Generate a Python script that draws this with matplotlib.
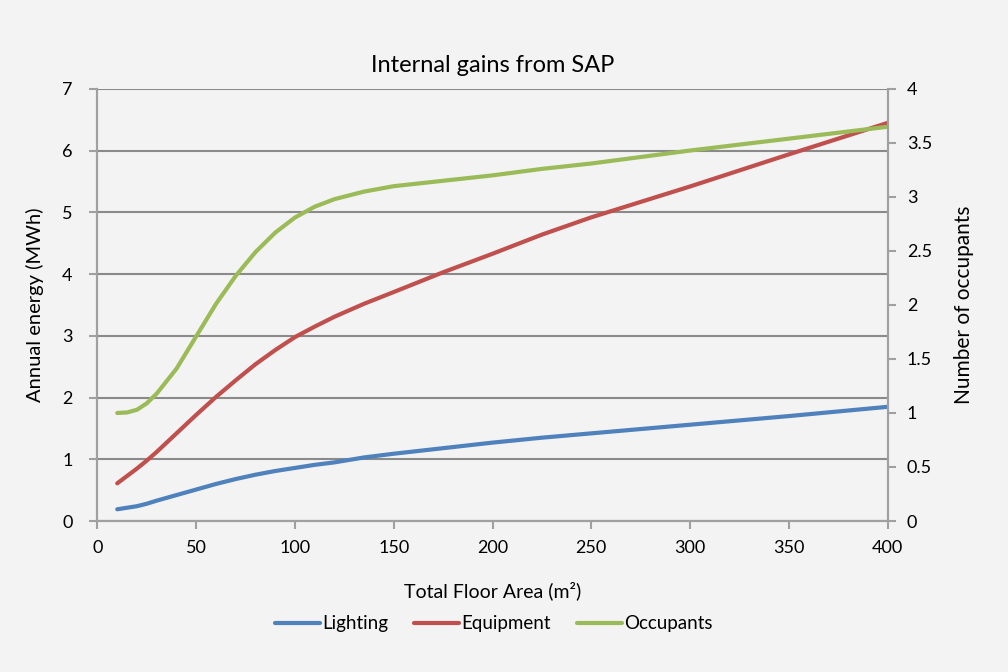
import matplotlib
matplotlib.use("Agg")
import matplotlib.pyplot as plt
from matplotlib.ticker import MultipleLocator, FuncFormatter

# SAP internal gains vs total floor area
tfa = [10, 15, 20, 25, 30, 40, 50, 60, 70, 80, 90, 100, 110, 120, 135, 150,
       175, 200, 225, 250, 300, 350, 400]
lighting = [0.19, 0.215, 0.24, 0.28, 0.33, 0.42, 0.51, 0.60, 0.68, 0.75, 0.81,
            0.86, 0.91, 0.95, 1.03, 1.09, 1.18, 1.27, 1.35, 1.42, 1.56, 1.70, 1.85]
equipment = [0.61, 0.73, 0.85, 0.98, 1.12, 1.42, 1.72, 2.01, 2.28, 2.54, 2.77,
             2.98, 3.15, 3.31, 3.52, 3.71, 4.03, 4.33, 4.64, 4.92, 5.42, 5.94, 6.45]
occupants = [1.00, 1.005, 1.03, 1.09, 1.18, 1.41, 1.71, 2.01, 2.27, 2.49, 2.67,
             2.81, 2.91, 2.98, 3.05, 3.10, 3.15, 3.20, 3.26, 3.31, 3.43, 3.54, 3.65]

BG = "#f3f3f3"
GRID = "#8a8a8a"
AXIS = "#a0a0a0"
C_LIGHT, C_EQUIP, C_OCC = "#4f81bd", "#c0504d", "#9bbb59"

plt.rcParams["font.family"] = ["Lato", "DejaVu Sans"]
plt.rcParams["font.size"] = 13

fig = plt.figure(figsize=(10.08, 6.72), dpi=100, facecolor=BG)
ax = fig.add_axes([0.0967, 0.2247, 0.7838, 0.6429])
ax.set_facecolor(BG)
ax2 = ax.twinx()

lw = 3.0
l1, = ax.plot(tfa, lighting, color=C_LIGHT, lw=lw, solid_capstyle="round",
              solid_joinstyle="round", label="Lighting")
l2, = ax.plot(tfa, equipment, color=C_EQUIP, lw=lw, solid_capstyle="round",
              solid_joinstyle="round", label="Equipment")
l3, = ax2.plot(tfa, occupants, color=C_OCC, lw=lw, solid_capstyle="round",
               solid_joinstyle="round", label="Occupants")

ax.set_xlim(0, 400)
ax.set_ylim(0, 7)
ax2.set_ylim(0, 4)
ax.xaxis.set_major_locator(MultipleLocator(50))
ax.yaxis.set_major_locator(MultipleLocator(1))
ax2.yaxis.set_major_locator(MultipleLocator(0.5))
ax2.yaxis.set_major_formatter(FuncFormatter(lambda v, _: f"{v:g}"))

ax.grid(axis="y", color=GRID, lw=1.5)
ax.set_axisbelow(True)

for a in (ax, ax2):
    a.spines["top"].set_visible(False)
    for s in ("left", "right", "bottom"):
        a.spines[s].set_color(AXIS)
        a.spines[s].set_linewidth(1.5)
    a.tick_params(direction="out", length=6, width=1.5, color=AXIS,
                  labelsize=13, labelcolor="black")
ax.tick_params(axis="y", pad=12)
ax.tick_params(axis="x", pad=8)
ax2.tick_params(axis="y", pad=8)

ax.set_title("Internal gains from SAP", fontsize=17, pad=12)
ax.set_xlabel("Total Floor Area (m²)", fontsize=14, labelpad=18)
ax.set_ylabel("Annual energy (MWh)", fontsize=14.5, labelpad=13)
ax2.set_ylabel("Number of occupants", fontsize=15, labelpad=16)

fig.legend(handles=[l1, l2, l3], loc="center", bbox_to_anchor=(0.49, 0.072),
           ncol=3, frameon=False, fontsize=13.5, handlelength=2.4,
           handletextpad=0.1, columnspacing=1.4)

fig.savefig("out.png", dpi=100, facecolor=BG)
